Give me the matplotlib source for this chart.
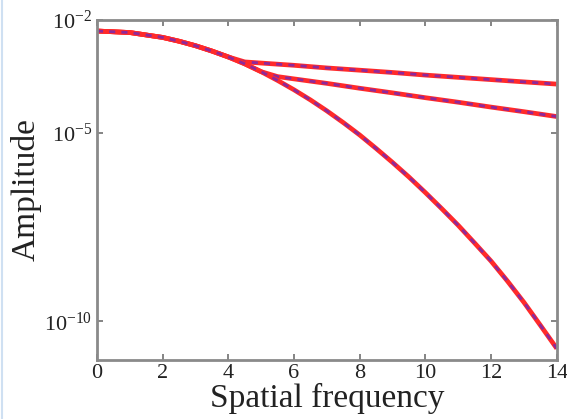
import matplotlib
matplotlib.use("Agg")
import matplotlib.pyplot as plt
from matplotlib.lines import Line2D

# values (amplitude vs spatial frequency)
x_low = [0, 1, 2, 2.5, 3, 3.5, 4, 4.5, 5, 5.5, 6, 6.5, 7, 7.5, 8, 8.5, 9, 9.5,
         10, 10.5, 11, 11.5, 12, 12.5, 13, 13.5, 14]
amp_low = [5.13e-3, 4.68e-3, 3.47e-3, 2.75e-3, 2.09e-3, 1.51e-3, 1.05e-3, 6.9e-4,
           4.27e-4, 2.5e-4, 1.41e-4, 7.6e-5, 3.89e-5, 1.9e-5, 8.9e-6, 3.9e-6,
           1.66e-6, 6.8e-7, 2.63e-7, 9.8e-8, 3.55e-8, 1.2e-8, 3.98e-9, 1.17e-9,
           3.2e-10, 7.9e-11, 1.91e-11]

x_top = [0, 1, 2, 2.5, 3, 3.5, 4, 4.5, 5, 6, 7, 8, 9, 10, 11, 12, 13, 14]
amp_top = [5.13e-3, 4.68e-3, 3.47e-3, 2.75e-3, 2.09e-3, 1.51e-3, 1.05e-3, 7.76e-4,
           7.24e-4, 6.31e-4, 5.37e-4, 4.68e-4, 4.07e-4, 3.47e-4, 3.02e-4, 2.63e-4,
           2.29e-4, 2.0e-4]

x_mid = [0, 1, 2, 2.5, 3, 3.5, 4, 4.5, 5, 5.5, 6, 7, 8, 9, 10, 11, 12, 13, 14]
amp_mid = [5.13e-3, 4.68e-3, 3.47e-3, 2.75e-3, 2.09e-3, 1.51e-3, 1.05e-3, 6.9e-4,
           4.27e-4, 3.16e-4, 2.75e-4, 2.09e-4, 1.55e-4, 1.17e-4, 8.7e-5, 6.6e-5,
           4.9e-5, 3.7e-5, 2.75e-5]

xticks = [0, 2, 4, 6, 8, 10, 12, 14]
yticks = [1e-2, 1e-5, 1e-10]
ytick_labels = [r'$10^{-2}$', r'$10^{-5}$', r'$10^{-10}$']

plt.rcParams['font.family'] = 'Liberation Serif'
plt.rcParams['mathtext.fontset'] = 'custom'
plt.rcParams['mathtext.rm'] = 'Liberation Serif'
plt.rcParams['mathtext.it'] = 'Liberation Serif:italic'

fig = plt.figure(figsize=(5.67, 4.19), dpi=100)
ax = fig.add_axes([0.171, 0.141, 0.811, 0.811])

for xs, ys in [(x_top, amp_top), (x_mid, amp_mid), (x_low, amp_low)]:
    ax.plot(xs, ys, color='#ff2a2a', lw=3.4, solid_capstyle='butt')
    ax.plot(xs, ys, color='#7a28b0', lw=2.0, ls=(0, (2.2, 2.2)), alpha=0.85)

ax.set_yscale('log')
ax.set_xlim(0, 14)
ax.set_ylim(9.5e-12, 1e-2)
ax.set_xticks(xticks)
ax.set_xticklabels([str(t) for t in xticks])
ax.set_yticks(yticks)
ax.set_yticklabels(ytick_labels)
ax.minorticks_off()

ax.tick_params(direction='in', top=True, right=True, length=4, width=1.2,
               color='#707070', labelsize=16, labelcolor='#222222')
ax.tick_params(axis='x', pad=3)
for s in ax.spines.values():
    s.set_color('#8a8a8a')
    s.set_linewidth(2)

ax.set_xlabel('Spatial frequency', fontsize=24, color='#222222', labelpad=0)
ax.set_ylabel('Amplitude', fontsize=24, color='#222222', labelpad=2)

# faint blue edge on the left of the screenshot
fig.add_artist(Line2D([0.003, 0.003], [0, 1], transform=fig.transFigure,
                      color='#cfe0f2', lw=1.5))

fig.savefig('out.png', dpi=100)
